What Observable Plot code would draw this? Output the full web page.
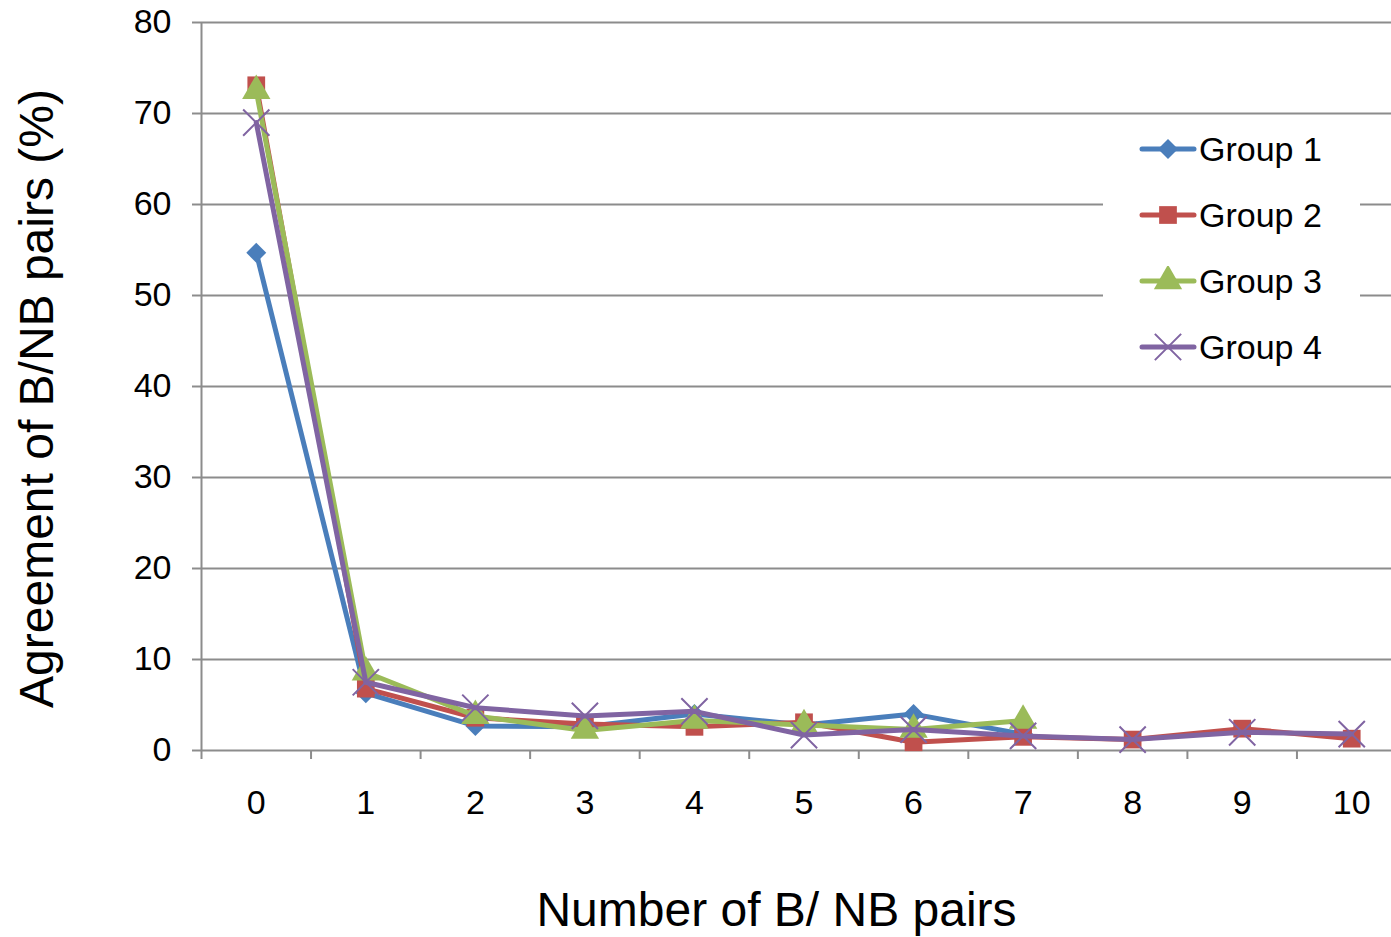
<!DOCTYPE html>
<html>
<head>
<meta charset="utf-8">
<script src="https://cdn.jsdelivr.net/npm/d3@7"></script>
<script src="https://cdn.jsdelivr.net/npm/@observablehq/plot@0.6"></script>
<style>
  html, body { margin: 0; padding: 0; background: #fff; }
  #wrap { position: relative; width: 1391px; height: 937px; font-family: "Liberation Sans", Arial, sans-serif; }
  #legend { position: absolute; left: 1103px; top: 120px; width: 257px; height: 260px; background: #fff; }
  .item { position: absolute; left: 36px; height: 40px; display: flex; align-items: center; font-size: 34px; color: #000; white-space: nowrap; }
  .item svg { margin-right: 2px; }
</style>
</head>
<body>
<div id="wrap"></div>
<script>
// ---- data ----
const pairs = [0, 1, 2, 3, 4, 5, 6, 7, 8, 9, 10];
const group1 = [54.7, 6.3, 2.7, 2.6, 4.0, 2.8, 4.0, 1.8];
const group2 = [73.1, 6.8, 3.6, 2.9, 2.6, 3.1, 0.9, 1.5, 1.2, 2.4, 1.3];
const group3 = [72.5, 8.6, 3.8, 2.2, 3.3, 2.8, 2.3, 3.3];
const group4 = [69.0, 7.5, 4.7, 3.8, 4.3, 1.7, 2.3, 1.6, 1.2, 2.0, 1.8];
const seriesNames = ["Group 1", "Group 2", "Group 3", "Group 4"];
const yTicks = [0, 10, 20, 30, 40, 50, 60, 70, 80];
const xTitle = "Number of B/ NB pairs";
const yTitle = "Agreement of B/NB pairs (%)";

// ---- styles ----
const colors = ["#4A7EBB", "#C0504D", "#9BBB59", "#8064A2"];
const symbols = ["diamond2", "square", "triangle", "times"];
const radii = [9, 10, 10.5, 12];
const allValues = [group1, group2, group3, group4];

const series = allValues.map((vals, i) =>
  vals.map((v, j) => ({pair: pairs[j], value: v, group: seriesNames[i]}))
);

const boundaries = pairs.map(p => p - 0.5);
const gridColor = "#8C8C8C";

const marks = [
  Plot.ruleY(yTicks.filter(t => t > 0), {stroke: gridColor, strokeWidth: 2}),
  Plot.axisY({ticks: yTicks, tickSize: 9, tickPadding: 21, fontSize: 34, stroke: gridColor, strokeWidth: 2, label: null, tickFormat: d => String(d)}),
  Plot.axisX({ticks: boundaries, tickSize: 9, tickFormat: () => "", stroke: gridColor, strokeWidth: 2, label: null}),
  Plot.axisX({ticks: pairs, tickSize: 0, tickPadding: 39, fontSize: 34, label: null, tickFormat: d => String(d)}),
  Plot.ruleY([0], {stroke: gridColor, strokeWidth: 2}),
  Plot.ruleX([-0.5], {stroke: gridColor, strokeWidth: 2}),
];

series.forEach((data, i) => {
  marks.push(Plot.line(data, {x: "pair", y: "value", stroke: colors[i], strokeWidth: 5, strokeLinejoin: "round", strokeLinecap: "round"}));
  if (symbols[i] === "times") {
    marks.push(Plot.dot(data, {x: "pair", y: "value", symbol: "times", r: radii[i], stroke: colors[i], strokeWidth: 2, fill: "none"}));
  } else {
    marks.push(Plot.dot(data, {x: "pair", y: "value", symbol: symbols[i], r: radii[i], fill: colors[i], stroke: "none"}));
  }
});

marks.push(Plot.text([yTitle], {frameAnchor: "left", textAnchor: "middle", lineAnchor: "middle", dx: -164, dy: 12, rotate: -90, fontSize: 48, fill: "#000"}));
marks.push(Plot.text([xTitle], {frameAnchor: "bottom", textAnchor: "middle", lineAnchor: "middle", dx: -20, dy: 160, fontSize: 48, fill: "#000"}));

const chart = Plot.plot({
  width: 1391,
  height: 937,
  marginTop: 22,
  marginBottom: 187,
  marginLeft: 201,
  marginRight: 0,
  style: {fontFamily: "'Liberation Sans', Arial, sans-serif", color: "#000", background: "#fff", overflow: "visible"},
  x: {type: "linear", domain: [-0.5, 10.5], range: [201, 1406]},
  y: {domain: [0, 80]},
  marks
});

const wrap = document.getElementById("wrap");
wrap.appendChild(chart);

// ---- legend ----
const legend = document.createElement("div");
legend.id = "legend";
const rowTops = [9, 75, 141, 207];
seriesNames.forEach((name, i) => {
  const item = document.createElement("div");
  item.className = "item";
  item.style.top = rowTops[i] + "px";
  const sw = d3.create("svg").attr("width", 58).attr("height", 30);
  sw.append("line").attr("x1", 3).attr("x2", 55).attr("y1", 15).attr("y2", 15)
    .attr("stroke", colors[i]).attr("stroke-width", 5).attr("stroke-linecap", "round");
  const typeMap = {diamond2: d3.symbolDiamond2, square: d3.symbolSquare, triangle: d3.symbolTriangle, times: d3.symbolTimes};
  const sym = d3.symbol(typeMap[symbols[i]], Math.PI * radii[i] * radii[i]);
  const p = sw.append("path").attr("d", sym()).attr("transform", "translate(29,15)");
  if (symbols[i] === "times") p.attr("fill", "none").attr("stroke", colors[i]).attr("stroke-width", 2);
  else p.attr("fill", colors[i]);
  item.appendChild(sw.node());
  const t = document.createElement("span");
  t.textContent = name;
  item.appendChild(t);
  legend.appendChild(item);
});
wrap.appendChild(legend);
</script>
</body>
</html>
